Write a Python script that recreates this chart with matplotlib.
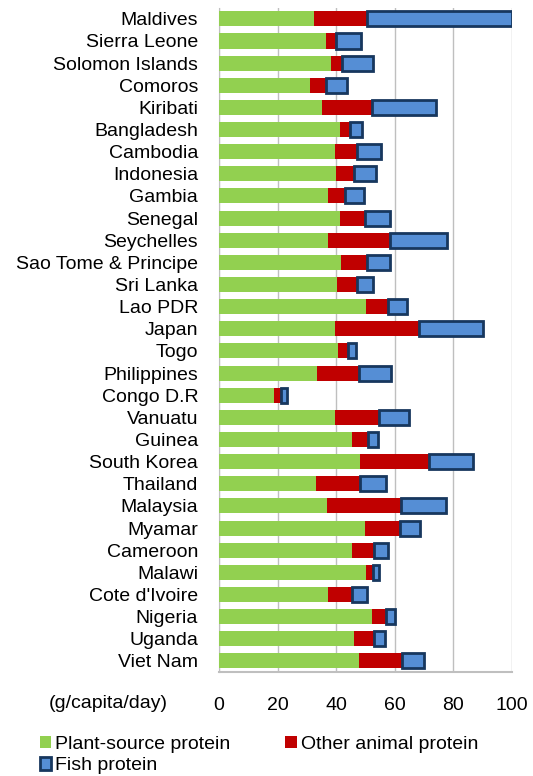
import numpy as np
import matplotlib.pyplot as plt

plt.rcParams['font.family'] = ['Liberation Sans', 'DejaVu Sans']

countries = ['Maldives', 'Sierra Leone', 'Solomon Islands', 'Comoros', 'Kiribati',
             'Bangladesh', 'Cambodia', 'Indonesia', 'Gambia', 'Senegal',
             'Seychelles', 'Sao Tome & Principe', 'Sri Lanka', 'Lao PDR', 'Japan',
             'Togo', 'Philippines', 'Congo D.R', 'Vanuatu', 'Guinea',
             'South Korea', 'Thailand', 'Malaysia', 'Myamar', 'Cameroon',
             'Malawi', "Cote d'Ivoire", 'Nigeria', 'Uganda', 'Viet Nam']

plant = [32.4, 36.7, 38.1, 31.0, 35.2, 41.2, 39.6, 39.8, 37.1, 41.2,
         37.2, 41.6, 40.4, 50.2, 39.6, 40.7, 33.4, 18.8, 39.7, 45.6,
         48.1, 33.1, 36.8, 49.8, 45.5, 50.1, 37.1, 52.2, 46.1, 47.9]
other_animal = [18.0, 3.1, 4.0, 5.5, 17.0, 3.4, 7.4, 6.4, 6.1, 8.7,
                21.1, 8.9, 6.6, 7.7, 28.6, 3.3, 14.4, 2.5, 15.0, 5.3,
                23.7, 14.9, 25.5, 11.9, 7.6, 2.6, 8.5, 4.9, 6.9, 14.7]
fish = [49.6, 8.7, 10.6, 7.2, 21.8, 4.2, 8.5, 7.3, 6.5, 8.4,
        19.6, 7.8, 5.5, 6.2, 22.1, 2.8, 10.9, 2.0, 10.2, 3.5,
        14.9, 9.2, 15.4, 6.9, 4.7, 1.8, 4.9, 2.9, 3.6, 7.6]

fig = plt.figure(figsize=(5.33, 7.76), dpi=100)
ax = fig.add_axes([0.411, 0.134, 0.549, 0.856])

y = np.arange(len(countries))
plant = np.array(plant)
other_animal = np.array(other_animal)
fish = np.array(fish)
h = 0.68

ax.barh(y, plant, height=h, color='#92D050', label='Plant-source protein', zorder=3)
ax.barh(y, other_animal, left=plant, height=h, color='#C00000',
        label='Other animal protein', zorder=3)
ax.barh(y, fish, left=plant + other_animal, height=h, color='#558ED5',
        edgecolor='#17375E', linewidth=2, label='Fish protein', zorder=4)

ax.set_xlim(0, 100)
ax.set_ylim(29.5, -0.5)
ax.set_xticks(np.arange(0, 101, 20))
ax.set_yticks(y)
ax.set_yticklabels(countries)
ax.tick_params(axis='y', length=0, pad=15, labelsize=14)
ax.tick_params(axis='x', length=0, pad=18, labelsize=14)
ax.grid(axis='x', color='#BFBFBF', linewidth=1, zorder=0)
for s in ['top', 'right']:
    ax.spines[s].set_visible(False)
ax.spines['left'].set_color('#BFBFBF')
ax.spines['bottom'].set_color('#BFBFBF')
ax.spines['bottom'].set_linewidth(1.5)

fig.text(0.203, 0.094, '(g/capita/day)', ha='center', va='center', fontsize=14)

handles, labels = ax.get_legend_handles_labels()
order = [0, 2, 1]
leg = fig.legend([handles[i] for i in order], [labels[i] for i in order],
                 ncol=2, loc='lower left', bbox_to_anchor=(0.06, -0.008),
                 frameon=False, fontsize=14, handlelength=0.6, handleheight=0.6,
                 handletextpad=0.2, columnspacing=2.8, labelspacing=0.22,
                 borderaxespad=0)
leg.legend_handles[2].set_linewidth(1)

fig.savefig('out.png', dpi=100)
